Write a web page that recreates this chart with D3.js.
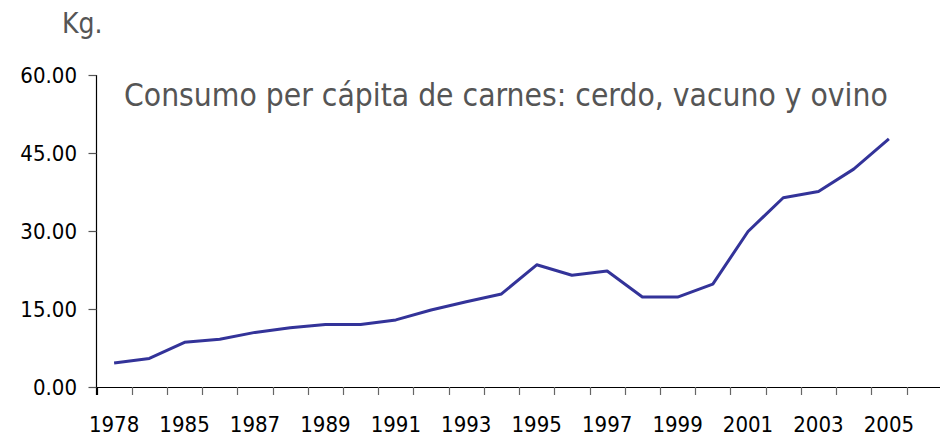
<!DOCTYPE html>
<html>
<head>
<meta charset="utf-8">
<script src="https://cdn.jsdelivr.net/npm/d3@7"></script>
<style>
  body { margin: 0; background: #fff; }
  svg { display: block; font-family: "DejaVu Sans Condensed", "DejaVu Sans", sans-serif; }
</style>
</head>
<body>
<svg id="chart" width="940" height="438"></svg>
<script>
const years = ["1978","1984","1985","1986","1987","1988","1989","1990","1991","1992","1993","1994",
               "1995","1996","1997","1998","1999","2000","2001","2002","2003","2004","2005"];
const labelYears = ["1978","1985","1987","1989","1991","1993","1995","1997","1999","2001","2003","2005"];
const consumo = [4.6, 5.5, 8.6, 9.2, 10.5, 11.4, 12.0, 12.0, 12.9, 14.8, 16.4, 17.9,
                 23.5, 21.5, 22.3, 17.3, 17.3, 19.8, 29.9, 36.4, 37.6, 41.9, 47.7];
const yTicks = [0, 15, 30, 45, 60];

const svg = d3.select("#chart");
const plotLeft = 96.5, plotRight = 906.5, plotTop = 75, plotBottom = 387;

const x = d3.scaleBand().domain(years).range([plotLeft, plotRight]);
const y = d3.scaleLinear().domain([0, 60]).range([plotBottom, plotTop]);

// x axis line runs to the right edge
svg.append("line")
  .attr("x1", plotLeft).attr("x2", 940)
  .attr("y1", plotBottom + 0.5).attr("y2", plotBottom + 0.5)
  .attr("stroke", "#000").attr("stroke-width", 1.2);

// x ticks at band edges
const edges = years.map(d => x(d)).concat([x(years[years.length - 1]) + x.bandwidth()]);
svg.append("g").selectAll("line")
  .data(edges)
  .join("line")
  .attr("x1", d => Math.round(d) + 0.5).attr("x2", d => Math.round(d) + 0.5)
  .attr("y1", plotBottom).attr("y2", plotBottom + 8)
  .attr("stroke", (d, i) => i === 0 ? "#000" : "#666")
  .attr("stroke-width", 1.2);

svg.append("g").selectAll("text")
  .data(labelYears)
  .join("text")
  .attr("x", d => x(d) + x.bandwidth() / 2)
  .attr("y", 432)
  .attr("text-anchor", "middle")
  .attr("font-size", 22)
  .attr("fill", "#000")
  .text(d => d);

// y axis
svg.append("line")
  .attr("x1", plotLeft).attr("x2", plotLeft)
  .attr("y1", plotTop).attr("y2", plotBottom + 8)
  .attr("stroke", "#000").attr("stroke-width", 1.2);

svg.append("g").selectAll("line")
  .data(yTicks)
  .join("line")
  .attr("x1", plotLeft - 8).attr("x2", plotLeft)
  .attr("y1", d => Math.round(y(d)) + 0.5).attr("y2", d => Math.round(y(d)) + 0.5)
  .attr("stroke", "#555").attr("stroke-width", 1.2);

svg.append("g").selectAll("text")
  .data(yTicks)
  .join("text")
  .attr("x", 77)
  .attr("y", d => y(d) + 8)
  .attr("text-anchor", "end")
  .attr("font-size", 22)
  .attr("fill", "#000")
  .text(d => d3.format(".2f")(d));

// line
const line = d3.line()
  .x((d, i) => x(years[i]) + x.bandwidth() / 2)
  .y(d => y(d));

svg.append("path")
  .datum(consumo)
  .attr("d", line)
  .attr("fill", "none")
  .attr("stroke", "#333399")
  .attr("stroke-width", 3)
  .attr("stroke-linejoin", "round");

// titles
svg.append("text")
  .attr("x", 62).attr("y", 33)
  .attr("font-size", 28)
  .attr("fill", "#555")
  .text("Kg.");

svg.append("text")
  .attr("x", 124).attr("y", 106)
  .attr("font-size", 31.5)
  .attr("fill", "#555")
  .text("Consumo per cápita de carnes: cerdo, vacuno y ovino");
</script>
</body>
</html>
